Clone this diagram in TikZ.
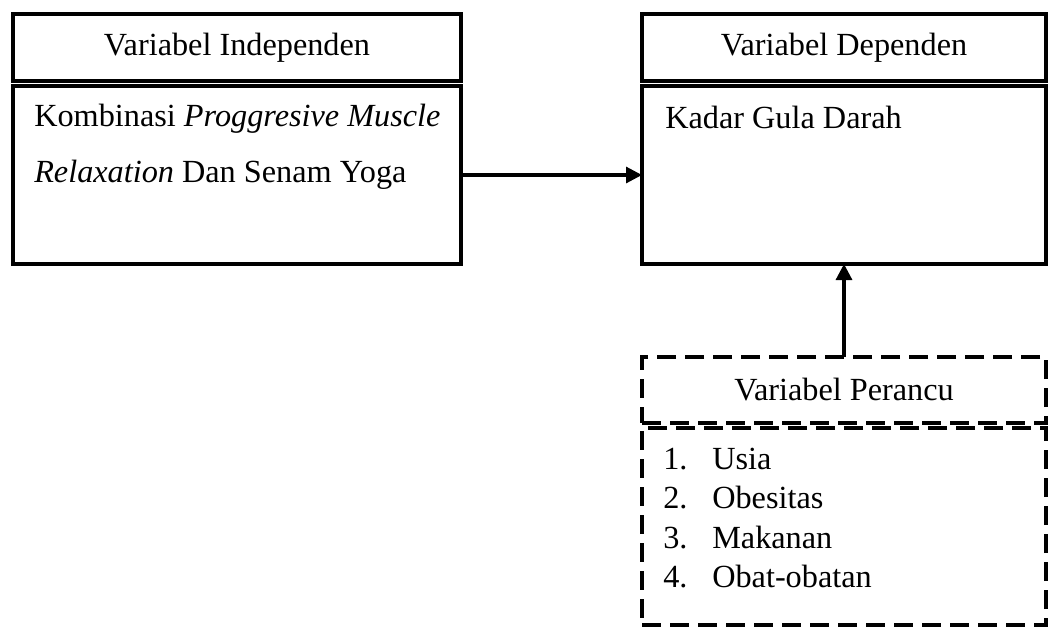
\documentclass[tikz,border=0pt]{standalone}
\usepackage{fontspec}
\setmainfont{Liberation Serif}
\usetikzlibrary{arrows.meta}
\begin{document}
\begin{tikzpicture}[x=0.75pt,y=-0.75pt,
  box/.style={draw, line width=2.4pt, inner sep=0pt, outer sep=0pt},
  dbox/.style={box, dash pattern=on 14pt off 7pt},
  txt/.style={font=\fontsize{24.2}{29}\selectfont, inner sep=0pt, anchor=base west},
  htxt/.style={font=\fontsize{24.2}{29}\selectfont},
  arr/.style={line width=2.3pt, -{Triangle[length=12pt,width=12pt]}}]
\useasboundingbox (0,0) rectangle (1050,628);
% left
\node[box, minimum width=448*0.75pt, minimum height=67*0.75pt, htxt] (lh) at (237,47.5) {Variabel Independen};
\node[box, minimum width=448*0.75pt, minimum height=178*0.75pt] (lb) at (237,175) {};
\node[txt] (lt1) at (34,126) {Kombinasi \textit{Proggresive Muscle}};
\node[txt] (lt2) at (34,182) {\textit{Relaxation} Dan Senam Yoga};
% right
\node[box, minimum width=404*0.75pt, minimum height=67*0.75pt, htxt] (rh) at (844,47.5) {Variabel Dependen};
\node[box, minimum width=404*0.75pt, minimum height=178*0.75pt] (rb) at (844,175) {};
\node[txt] (rt) at (665,128) {Kadar Gula Darah};
% dashed
\node[dbox, minimum width=404*0.75pt, minimum height=66*0.75pt, htxt] (dh) at (844,390) {Variabel Perancu};
\node[dbox, minimum width=404*0.75pt, minimum height=197*0.75pt] (db) at (844,526.5) {};
\node[txt] (n1) at (663,469) {1.};
\node[txt] (i1) at (712,469) {Usia};
\node[txt] (n2) at (663,508.5) {2.};
\node[txt] (i2) at (712,508.5) {Obesitas};
\node[txt] (n3) at (663,548) {3.};
\node[txt] (i3) at (712,548) {Makanan};
\node[txt] (n4) at (663,587.5) {4.};
\node[txt] (i4) at (712,587.5) {Obat-obatan};
% arrows
\draw[arr] (lb.east) -- (rb.west);
\draw[arr] (dh.north) -- (rb.south);
\end{tikzpicture}
\end{document}
